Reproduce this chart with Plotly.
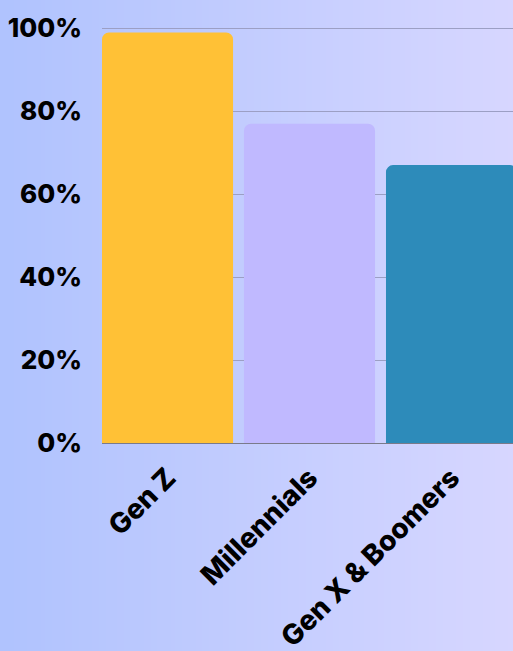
import base64, struct, zlib
import plotly.graph_objects as go

categories = ["Gen Z", "Millennials", "Gen X & Boomers"]
values = [99, 77, 67]
bar_colors = ["#FFC136", "#C0B9FF", "#2D8BBA"]
tick_vals = [0, 20, 40, 60, 80, 100]
tick_text = ["0%", "20%", "40%", "60%", "80%", "100%"]

# horizontal gradient background as PNG data URI
def gradient_png(c0, c1, w=256):
    row = b"\x00"
    for i in range(w):
        t = i / (w - 1)
        row += bytes(int(round(c0[k] + (c1[k] - c0[k]) * t)) for k in range(3))
    def chunk(tag, data):
        c = struct.pack(">I", len(data)) + tag + data
        return c + struct.pack(">I", zlib.crc32(tag + data) & 0xffffffff)
    png = b"\x89PNG\r\n\x1a\n"
    png += chunk(b"IHDR", struct.pack(">IIBBBBB", w, 1, 8, 2, 0, 0, 0))
    png += chunk(b"IDAT", zlib.compress(row))
    png += chunk(b"IEND", b"")
    return "data:image/png;base64," + base64.b64encode(png).decode()

bg = gradient_png((174, 194, 254), (218, 216, 255))

fig = go.Figure(go.Bar(
    x=categories, y=values, marker_color=bar_colors, marker_line_width=0,
))

font_family = "Inter"
fig.update_layout(
    width=513, height=651,
    margin=dict(l=102, r=0, t=27, b=208, autoexpand=False),
    paper_bgcolor="rgba(0,0,0,0)", plot_bgcolor="rgba(0,0,0,0)",
    bargap=0.077, barcornerradius=7,
    showlegend=False,
    font=dict(family=font_family, color="#000000"),
    images=[dict(source=bg, xref="paper", yref="paper", x=-0.3, y=1.2,
                 sizex=1.4, sizey=2.5, sizing="stretch", layer="below",
                 xanchor="left", yanchor="top")],
)
fig.update_xaxes(range=[-0.4615, 2.433], tickangle=-45, showgrid=False,
                 tickfont=dict(size=28, family=font_family, weight=800),
                 showline=False, zeroline=False, ticklabelstandoff=12,
                 automargin=False)
fig.update_yaxes(range=[0, 100.3], tickvals=tick_vals, ticktext=tick_text,
                 showgrid=True, gridcolor="#9C9FC4", gridwidth=1,
                 zeroline=True, zerolinecolor="#7A7A8A", zerolinewidth=1,
                 tickfont=dict(size=26, family=font_family, weight=800),
                 ticklabelstandoff=19, automargin=False)
fig.write_html("out.html", config={"displayModeBar": False},
               post_script="document.body.style.margin='0';")
